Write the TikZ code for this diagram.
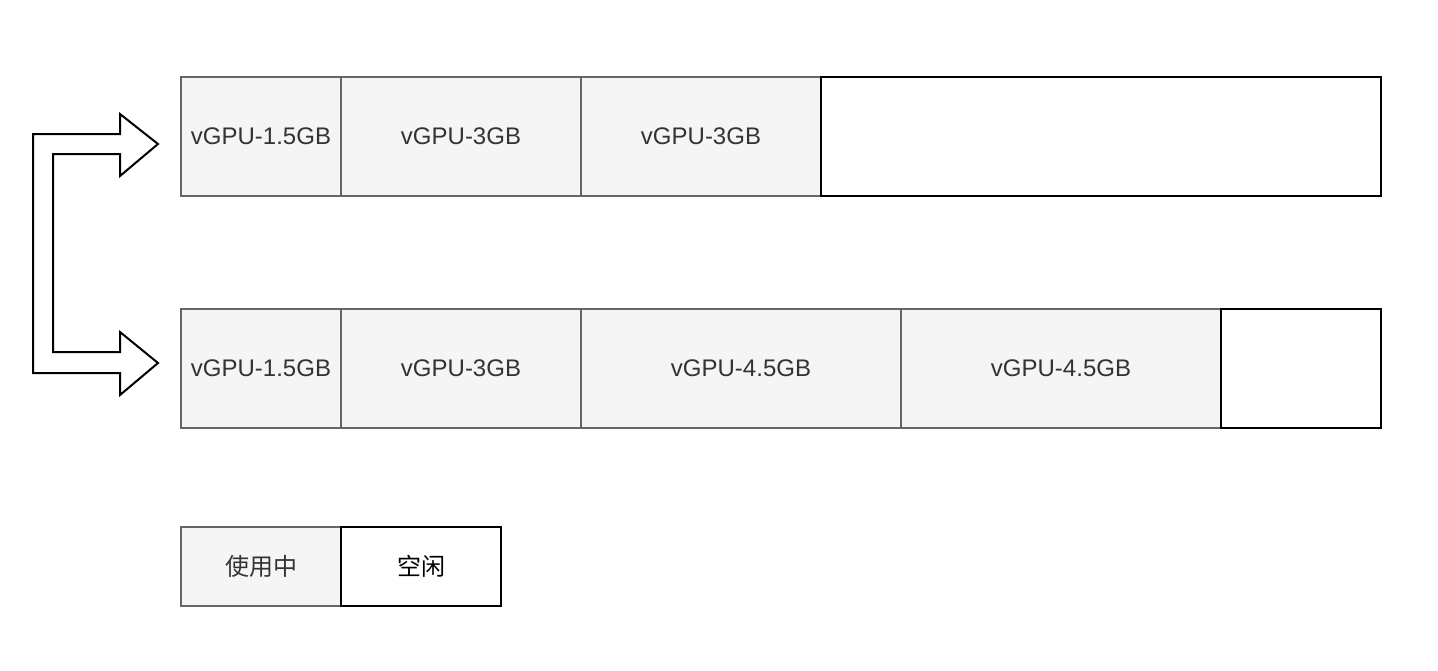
\documentclass[tikz,border=0pt]{standalone}
\usepackage{fontspec}
\setmainfont{Liberation Sans}
\newfontfamily\cjk{Noto Sans CJK SC}
\usetikzlibrary{positioning}
\definecolor{usedfill}{HTML}{F5F5F5}
\definecolor{usedline}{HTML}{666666}
\definecolor{usedtext}{HTML}{333333}

\begin{document}
\begin{tikzpicture}[x=1pt, y=-1pt, line width=2pt,
    font=\fontsize{24}{28}\selectfont,
    used/.style={draw=usedline, fill=usedfill, text=usedtext, outer sep=0pt,
      minimum height=119pt, inner sep=0pt},
    free/.style={draw=black, fill=white, outer sep=0pt,
      minimum height=119pt, inner sep=0pt},
    key/.style={minimum height=79pt, minimum width=160pt}]
      \useasboundingbox (0,0) rectangle (1438,670);
      % first layout
      \node[used, minimum width=160pt, anchor=north west] (a1) at (181,77) {vGPU-1.5GB};
      \node[used, minimum width=240pt, right=0pt of a1] (a2) {vGPU-3GB};
      \node[used, minimum width=240pt, right=0pt of a2] (a3) {vGPU-3GB};
      \node[free, minimum width=560pt, right=0pt of a3] (a4) {};
      % second layout
      \node[used, minimum width=160pt, anchor=north west] (b1) at (181,309) {vGPU-1.5GB};
      \node[used, minimum width=240pt, right=0pt of b1] (b2) {vGPU-3GB};
      \node[used, minimum width=320pt, right=0pt of b2] (b3) {vGPU-4.5GB};
      \node[used, minimum width=320pt, right=0pt of b3] (b4) {vGPU-4.5GB};
      \node[free, minimum width=160pt, right=0pt of b4] (b5) {};
      % legend
      \node[used, key, anchor=north west] (inuse) at (181,527) {\cjk 使用中};
      \node[free, key, right=0pt of inuse] (idle) {\cjk 空闲};
      % double arrow
      \draw[line join=miter] (33,134) -- (120,134) -- (120,114) -- (158,144)
        -- (120,176) -- (120,154) -- (53,154) -- (53,352) -- (120,352)
        -- (120,332) -- (158,363) -- (120,395) -- (120,373) -- (33,373) -- cycle;
    \end{tikzpicture}
\end{document}
